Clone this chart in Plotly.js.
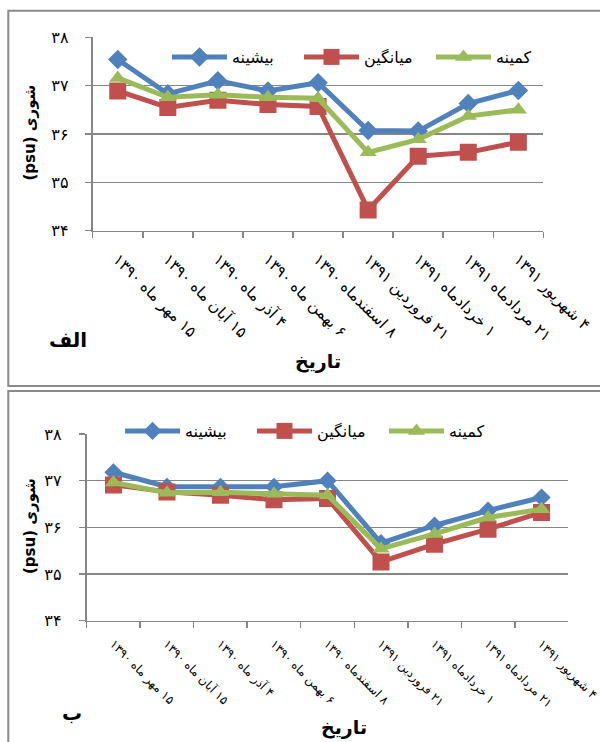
<!DOCTYPE html>
<html>
<head>
<meta charset="utf-8">
<script src="https://cdn.plot.ly/plotly-3.0.1.min.js"></script>
<style>html,body{margin:0;padding:0;background:#fff}#chart{width:600px;height:742px}</style>
</head>
<body>
<div id="chart"></div>
<script>
// ---- data ----
const dates = [
  "\u200f۱۵ مهر ماه ۱۳۹۰",
  "\u200f۱۵ آبان ماه ۱۳۹۰",
  "\u200f۴ آذر ماه ۱۳۹۰",
  "\u200f۶ بهمن ماه ۱۳۹۰",
  "\u200f۸ اسفندماه ۱۳۹۰",
  "\u200f۲۱ فروردین ۱۳۹۱",
  "\u200f۱ خردادماه ۱۳۹۱",
  "\u200f۲۱ مردادماه ۱۳۹۱",
  "\u200f۴ شهریور ۱۳۹۱"
];
const seriesNames = ["بیشینه", "میانگین", "کمینه"];
// panel الف
const maxA  = [37.54, 36.83, 37.10, 36.89, 37.06, 36.07, 36.06, 36.63, 36.90];
const meanA = [36.89, 36.55, 36.70, 36.61, 36.57, 34.43, 35.54, 35.62, 35.83];
const minA  = [37.16, 36.76, 36.81, 36.76, 36.74, 35.62, 35.89, 36.37, 36.50];
// panel ب
const maxB  = [37.18, 36.87, 36.87, 36.87, 37.00, 35.66, 36.04, 36.36, 36.64];
const meanB = [36.91, 36.76, 36.69, 36.59, 36.62, 35.26, 35.64, 35.96, 36.32];
const minB  = [36.96, 36.74, 36.75, 36.72, 36.69, 35.54, 35.86, 36.21, 36.39];
const yTickVals = [34, 35, 36, 37, 38];
const yTickText = ["۳۴", "۳۵", "۳۶", "۳۷", "۳۸"];
const yTitle = "(psu) شوری";
const xTitle = "تاریخ";
const panelLabels = ["الف", "ب"];

const W = 600, H = 742;
const px = v => v / W;
const py = v => 1 - v / H;
const FONT = "DejaVu Sans, sans-serif";
const colors = ["#4F81BD", "#C0504D", "#9BBB59"];
const symbols = ["diamond", "square", "triangle-up"];
const sizes = [[15, 17, 15], [14, 17, 15]];
const grey = "#868686";

function mk(ys, i, panel) {
  return {
    type: "scatter", mode: "lines+markers",
    x: dates, y: ys, name: seriesNames[i],
    xaxis: panel === 0 ? "x" : "x2",
    yaxis: panel === 0 ? "y" : "y2",
    legend: panel === 0 ? "legend" : "legend2",
    line: {color: colors[i], width: 5},
    marker: {color: colors[i], symbol: symbols[i], size: sizes[panel][i]},
    hoverinfo: "skip"
  };
}
const data = [
  mk(maxA, 0, 0), mk(meanA, 1, 0), mk(minA, 2, 0),
  mk(maxB, 0, 1), mk(meanB, 1, 1), mk(minB, 2, 1)
];

function xax(domain, anchor, fs, standoff) {
  return {
    domain: domain, anchor: anchor, type: "category",
    range: [-0.5, 8.5], tickson: "boundaries",
    ticks: "outside", ticklen: 6, tickcolor: grey, tickwidth: 1.5,
    showline: true, linecolor: grey, linewidth: 1.5, showgrid: false,
    tickangle: 45, tickfont: {family: FONT, size: fs, color: "#000"},
    ticklabelstandoff: standoff, automargin: false
  };
}
function yax(domain, anchor, standoff) {
  return {
    domain: domain, anchor: anchor, range: [34, 38],
    tickvals: yTickVals, ticktext: yTickText,
    ticks: "outside", ticklen: 6.5, tickcolor: grey, tickwidth: 1.5,
    showline: true, linecolor: grey, linewidth: 1.5,
    showgrid: true, gridcolor: grey, gridwidth: 1.5, zeroline: false,
    tickfont: {family: FONT, size: 16, color: "#000"},
    ticklabelstandoff: standoff, automargin: false
  };
}
function ann(text, x, y, size, angle, bold) {
  return {text: bold ? "<b>" + text + "</b>" : text, xref: "paper", yref: "paper",
          x: px(x), y: py(y), xanchor: "center", yanchor: "middle",
          textangle: angle || 0, showarrow: false,
          font: {family: FONT, size: size, color: "#000"}};
}
const legendCommon = {orientation: "h", xanchor: "left", yanchor: "middle",
  bgcolor: "rgba(0,0,0,0)", itemwidth: 55, entrywidth: 62, entrywidthmode: "pixels",
  font: {family: FONT, size: 16, color: "#000"}};

const layout = {
  width: W, height: H,
  margin: {l: 0, r: 0, t: 0, b: 0},
  paper_bgcolor: "#fff", plot_bgcolor: "rgba(0,0,0,0)",
  showlegend: true,
  xaxis: xax([px(92.7), px(543.4)], "y", 15.5, 12),
  yaxis: yax([py(230.7), py(37.3)], "x", 13),
  xaxis2: xax([px(86.7), px(568.3)], "y2", 12, 10),
  yaxis2: yax([py(620.7), py(434)], "x2", 14),
  legend: Object.assign({}, legendCommon, {x: px(167), y: py(57)}),
  legend2: Object.assign({}, legendCommon, {x: px(120), y: py(431)}),
  shapes: [
    {type: "rect", xref: "paper", yref: "paper", x0: px(8.3), x1: px(603), y0: py(386), y1: py(10.7),
     line: {color: "#8a8a8a", width: 2}, layer: "below"},
    {type: "rect", xref: "paper", yref: "paper", x0: px(8.3), x1: px(603), y0: py(750), y1: py(391),
     line: {color: "#8a8a8a", width: 2}, layer: "below"}
  ],
  annotations: [
    ann(yTitle, 29, 132.5, 15, -90, true),
    ann(yTitle, 30, 526, 15, -90, true),
    ann(xTitle, 318, 362, 19, 0, true),
    ann(xTitle, 344, 727, 19, 0, true),
    ann(panelLabels[0], 68, 340, 20, 0, true),
    ann(panelLabels[1], 72, 713, 20, 0, true)
  ]
};

Plotly.newPlot("chart", data, layout, {displayModeBar: false, staticPlot: true}).then(function (gd) {
  // stretch legend line symbols to the long Excel-style sample
  gd.querySelectorAll(".legend .traces").forEach(function (tr) {
    tr.querySelectorAll("path.js-line").forEach(function (p) { p.setAttribute("d", "M5,0h55"); });
    tr.querySelectorAll(".legendpoints path.scatterpts").forEach(function (p) {
      p.setAttribute("transform", "translate(32.5,0)");
    });
  });
});
</script>
</body>
</html>
